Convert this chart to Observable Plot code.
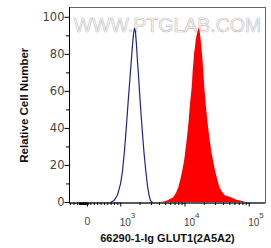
<!DOCTYPE html>
<html><head><meta charset="utf-8">
<script src="https://cdn.jsdelivr.net/npm/d3@7"></script>
<script src="https://cdn.jsdelivr.net/npm/@observablehq/plot@0.6"></script>
<style>html,body{margin:0;padding:0;background:#fff}svg{display:block}</style>
</head><body><div id="chart"></div>
<script>
// Isotype control (blue outline) — fluorescence intensity vs relative count
const blueX = [680, 783, 889, 990, 1064, 1143, 1228, 1319, 1417, 1469, 1522, 1578, 1636, 1696, 1757, 1821, 1868, 1957, 2065, 2180, 2300, 2453, 2608, 2751, 2904, 3120];
const blueY = [0, 1, 4, 10, 17, 28, 42, 57, 71, 78, 85, 91, 94, 92, 85, 76, 71, 60, 48, 37, 27, 17, 9, 4, 1, 0];
// GLUT1 stained (red filled)
const redX = [4156, 4797, 5342, 5948, 6695, 7378, 8010, 8670, 9247, 9829, 10190, 10944, 11633, 12190, 12953, 13428, 13821, 14071, 14582, 14952, 15668, 16652, 17262, 17889, 18745, 19638, 20355, 21403, 22665, 24354, 26546, 29889, 34855, 38413, 42768, 49368, 56992, 65766, 77857, 87660];
const redY = [0, 0.3, 0.8, 1.6, 2.6, 5, 8, 12.5, 17, 22, 26, 35, 44, 53, 62, 71, 76, 80, 84, 87.5, 91, 94.4, 92, 87.5, 80, 71, 62, 53, 44, 35, 26, 17, 8, 5.5, 3.5, 3, 2, 1, 0.6, 0];

const yTicks = [0, 20, 40, 60, 80, 100];
const yMinor = [10, 30, 50, 70, 90];
const xTicks = [0, 1000, 10000, 100000];
const xZeroLabel = ["0"];
const xPowTicks = [1000, 10000, 100000];
const xPowBase = ["10", "10", "10"];
const xPowExp = ["3", "4", "5"];
const xMinor = [-500, -400, -300, -240, -220, -200, -180, -160, -140, -120, -100, -80, -60, -40, -20, 20,
  100, 200, 300, 400, 500, 600, 700, 800, 900,
  2000, 3000, 4000, 5000, 6000, 7000, 8000, 9000,
  20000, 30000, 40000, 50000, 60000, 70000, 80000, 90000];
const xLabel = "66290-1-Ig GLUT1(2A5A2)";
const yLabel = "Relative Cell Number";
const watermark = "WWW.PTGLAB.COM";
const xMin = -532, xMax = 179600;

// biexponential-like axis: linear near zero, log10 above T (C1 continuous)
const T = 824;
function flowT(v) { return v >= T ? Math.log10(v) : Math.log10(T) + (v - T) / (T * Math.LN10); }

const blue = blueX.map((x, i) => ({x, y: blueY[i]}));
const red = redX.map((x, i) => ({x, y: redY[i]}));

const plot = Plot.plot({
  width: 271, height: 248,
  marginLeft: 69, marginRight: 6, marginTop: 7, marginBottom: 45.5,
  x: {type: "linear", transform: flowT, domain: [flowT(xMin), flowT(xMax)]},
  y: {domain: [-0.3, 105.3]},
  style: {fontFamily: "'Liberation Sans', Arial, sans-serif", background: "white", color: "black"},
  marks: [
    Plot.text([watermark], {frameAnchor: "top", textAnchor: "middle", dy: 11, fontSize: 19.5, fill: "none", stroke: "#c4c4c4", strokeWidth: 0.7}),
    Plot.areaY(red, {x: "x", y: "y", fill: "#ff0000"}),
    Plot.lineY(blue, {x: "x", y: "y", stroke: "#1f238c", strokeWidth: 1.2}),
    Plot.frame({stroke: "#666"}),
    Plot.ruleX([xMin], {stroke: "black"}),
    Plot.ruleY([-0.3], {stroke: "black"}),
    Plot.axisY(yTicks, {tickSize: 4.5, tickFormat: () => "", label: null, stroke: "black"}),
    Plot.axisY(yMinor, {tickSize: 3, tickFormat: () => "", label: null, stroke: "black"}),
    Plot.text(yTicks, {y: d => d, text: d => String(d), frameAnchor: "left", dx: -5, textAnchor: "end", fill: "#444", fontSize: 11.5, fontFamily: "'DejaVu Sans', sans-serif"}),
    Plot.axisX(xTicks, {tickSize: 4, tickFormat: () => "", label: null, stroke: "black"}),
    Plot.axisX(xMinor, {tickSize: 2.5, tickFormat: () => "", label: null, stroke: "black"}),
    Plot.text(xZeroLabel, {x: () => 0, text: d => d, frameAnchor: "bottom", textAnchor: "middle", lineAnchor: "top", dy: 15, fill: "#444", fontSize: 10.5}),
    Plot.text(xPowTicks, {x: d => d, text: (d, i) => xPowBase[i], frameAnchor: "bottom", lineAnchor: "top", textAnchor: "start", dx: -1, dy: 16, fill: "#444", fontSize: 10}),
    Plot.text(xPowTicks, {x: d => d, text: (d, i) => xPowExp[i], frameAnchor: "bottom", lineAnchor: "top", textAnchor: "start", dx: 10, dy: 9.5, fill: "#444", fontSize: 8}),
    Plot.text([xLabel], {frameAnchor: "bottom", textAnchor: "middle", dy: 38.5, fontWeight: "bold", fontSize: 11, fill: "#111"}),
    Plot.text([yLabel], {frameAnchor: "left", textAnchor: "middle", rotate: -90, dx: -45, fontWeight: "bold", fontSize: 11.5, fill: "#111"})
  ]
});
document.getElementById("chart").appendChild(plot);
</script>
</body></html>
